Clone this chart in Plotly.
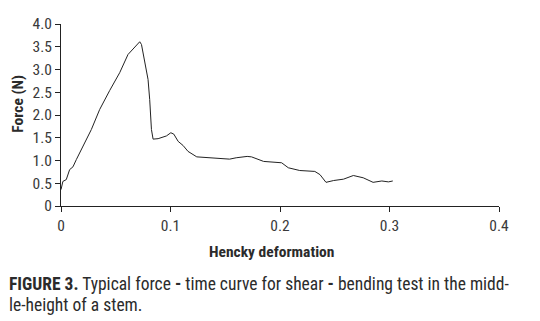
import plotly.graph_objects as go

strain = [0.0, 0.0017, 0.0048, 0.0079, 0.0109, 0.014, 0.0277, 0.0353, 0.0445, 0.0536, 0.0612,
          0.0673, 0.0719, 0.0735, 0.0795, 0.081, 0.0826, 0.0841, 0.0887, 0.0963, 0.1003, 0.103,
          0.107, 0.1115, 0.116, 0.124, 0.136, 0.145, 0.154, 0.160, 0.170, 0.174, 0.185, 0.2015,
          0.2076, 0.218, 0.2318, 0.2365, 0.242, 0.249, 0.258, 0.267, 0.276, 0.285, 0.293, 0.299, 0.303]
force = [0.36, 0.54, 0.58, 0.80, 0.86, 1.02, 1.68, 2.12, 2.54, 2.93, 3.33,
         3.48, 3.61, 3.55, 2.78, 2.34, 1.68, 1.47, 1.48, 1.54, 1.61, 1.58,
         1.42, 1.33, 1.20, 1.08, 1.06, 1.03, 1.03, 1.06, 1.09, 1.08, 0.98, 0.95,
         0.84, 0.78, 0.76, 0.69, 0.52, 0.56, 0.59, 0.67, 0.62, 0.52, 0.55, 0.53, 0.55]

x_ticks = [0, 0.1, 0.2, 0.3, 0.4]
x_ticktext = ["0", "0.1", "0.2", "0.3", "0.4"]
y_ticks = [0, 0.5, 1.0, 1.5, 2.0, 2.5, 3.0, 3.5, 4.0]
y_ticktext = ["0", "0.5", "1.0", "1.5", "2.0", "2.5", "3.0", "3.5", "4.0"]

FONT = "Roboto Condensed, DejaVu Sans Condensed, sans-serif"
TXT = "#2b2b2b"

fig = go.Figure()
fig.add_trace(go.Scatter(x=strain, y=force, mode="lines",
                         line=dict(color="#222222", width=1), showlegend=False))

axis_common = dict(showgrid=False, zeroline=False, showline=True, linecolor="#222222",
                   linewidth=1, ticks="outside", ticklen=5, tickcolor="#222222",
                   tickfont=dict(size=15.5, family=FONT, color="#3a3a3a"))

fig.update_layout(
    width=540, height=321,
    margin=dict(l=61, r=41, t=24, b=115),
    paper_bgcolor="white", plot_bgcolor="white",
    font=dict(family=FONT, color=TXT, size=15),
    xaxis=dict(range=[0, 0.4], tickvals=x_ticks, ticktext=x_ticktext, **axis_common),
    yaxis=dict(range=[0, 4], tickvals=y_ticks, ticktext=y_ticktext, **axis_common),
    annotations=[
        dict(text="<b>Force (N)</b>", xref="paper", yref="paper", x=-0.0975, y=0.564,
             textangle=-90, showarrow=False, font=dict(size=15.5, family=FONT, color=TXT),
             xanchor="center", yanchor="middle"),
        dict(text="<b>Hencky deformation</b>", xref="paper", yref="paper", x=0.481, y=-0.25,
             showarrow=False, font=dict(size=15.5, family=FONT, color=TXT),
             xanchor="center", yanchor="middle"),
        dict(text="<b>FIGURE 3.</b> Typical force <b>-</b> time curve for shear <b>-</b> bending test in the midd-",
             xref="paper", yref="paper", x=-0.1233, y=-0.428, xanchor="left", yanchor="middle",
             showarrow=False, font=dict(size=17.5, family=FONT, color=TXT)),
        dict(text="le-height of a stem.",
             xref="paper", yref="paper", x=-0.1233, y=-0.543, xanchor="left", yanchor="middle",
             showarrow=False, font=dict(size=17.5, family=FONT, color=TXT)),
    ],
)

fig.write_html("out.html", config={"displayModeBar": False},
               post_script="document.body.style.margin='0';document.body.style.padding='0';")
